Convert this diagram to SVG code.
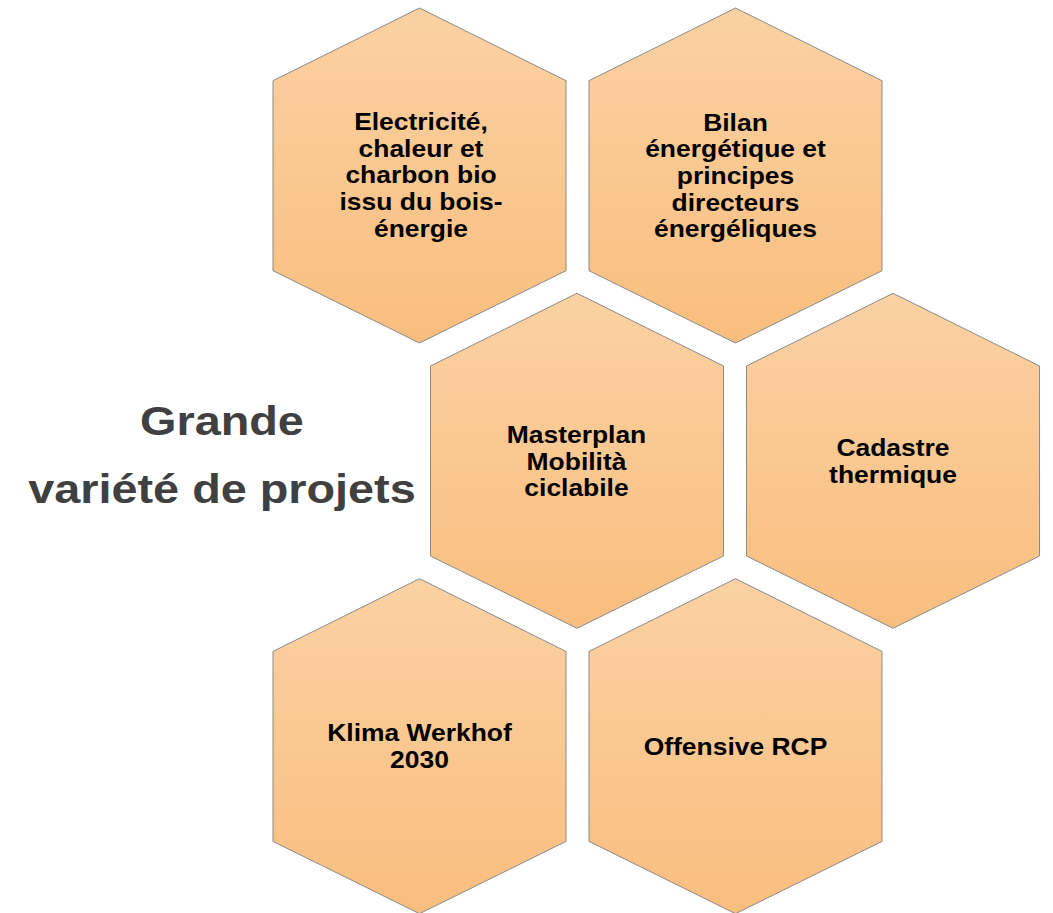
<svg xmlns="http://www.w3.org/2000/svg" width="1053" height="913" viewBox="0 0 1053 913">
  <defs>
    <linearGradient id="hexFill" x1="0" y1="0" x2="0" y2="1">
      <stop offset="0" stop-color="#FBD1A3"/>
      <stop offset="1" stop-color="#F9BE7E"/>
    </linearGradient>
    <style>
      .hex { fill: url(#hexFill); stroke: #8A8A8A; stroke-width: 1; }
      .lbl { font-family: "Liberation Sans", Arial, sans-serif; font-weight: bold; font-size: 23px; fill: #000000; text-anchor: middle; }
      .title { font-family: "Liberation Sans", Arial, sans-serif; font-weight: bold; font-size: 40px; fill: #404040; text-anchor: middle; }
    </style>
  </defs>
  <rect width="1053" height="913" fill="#FFFFFF"/>

  <g id="title" transform="translate(222 0) scale(1.17 1)">
    <text class="title"><tspan x="0" y="435">Grande</tspan><tspan x="0" y="503">variété de projets</tspan></text>
  </g>

  <g id="hex-electricite">
    <polygon class="hex" points="419.5,8 566,80.7 566,270.7 419.5,343 273,270.7 273,80.7"/>
    <g transform="translate(421 0) scale(1.15 1)">
      <text class="lbl"><tspan x="0" y="130">Electricité,</tspan><tspan x="0" y="156.7">chaleur et</tspan><tspan x="0" y="183.3">charbon bio</tspan><tspan x="0" y="210">issu du bois-</tspan><tspan x="0" y="236.7">énergie</tspan></text>
    </g>
  </g>

  <g id="hex-bilan">
    <polygon class="hex" points="735.5,8 882,80.7 882,270.7 735.5,343 589,270.7 589,80.7"/>
    <g transform="translate(735.5 0) scale(1.15 1)">
      <text class="lbl"><tspan x="0" y="130.7">Bilan</tspan><tspan x="0" y="157.3">énergétique et</tspan><tspan x="0" y="184">principes</tspan><tspan x="0" y="210.7">directeurs</tspan><tspan x="0" y="237.3">énergéliques</tspan></text>
    </g>
  </g>

  <g id="hex-masterplan">
    <polygon class="hex" points="577,293.3 723.5,366 723.5,556 577,628.3 430.5,556 430.5,366"/>
    <g transform="translate(576.5 0) scale(1.15 1)">
      <text class="lbl"><tspan x="0" y="443.3">Masterplan</tspan><tspan x="0" y="469.8">Mobilità</tspan><tspan x="0" y="496.3">ciclabile</tspan></text>
    </g>
  </g>

  <g id="hex-cadastre">
    <polygon class="hex" points="893,293.3 1039.5,366 1039.5,556 893,628.3 746.5,556 746.5,366"/>
    <g transform="translate(893 0) scale(1.15 1)">
      <text class="lbl"><tspan x="0" y="456">Cadastre</tspan><tspan x="0" y="482.7">thermique</tspan></text>
    </g>
  </g>

  <g id="hex-klima">
    <polygon class="hex" points="419.5,578.7 566,651.4 566,841.4 419.5,913.7 273,841.4 273,651.4"/>
    <g transform="translate(419.5 0) scale(1.15 1)">
      <text class="lbl"><tspan x="0" y="741.5">Klima Werkhof</tspan><tspan x="0" y="768.5">2030</tspan></text>
    </g>
  </g>

  <g id="hex-offensive">
    <polygon class="hex" points="735.5,578.7 882,651.4 882,841.4 735.5,913.7 589,841.4 589,651.4"/>
    <g transform="translate(735.5 0) scale(1.15 1)">
      <text class="lbl"><tspan x="0" y="755">Offensive RCP</tspan></text>
    </g>
  </g>

  <g id="connectors"/>
</svg>
